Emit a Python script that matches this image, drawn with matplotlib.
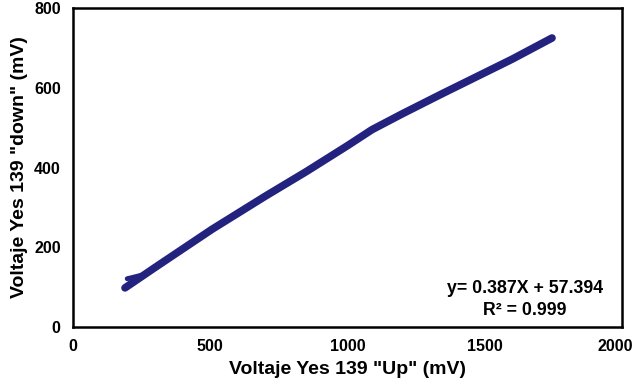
import matplotlib
matplotlib.use("Agg")
import matplotlib.pyplot as plt
import matplotlib.transforms as mtransforms

# readings of the sweep (mV)
up_mv = [189, 300, 506, 700, 850, 1000, 1089, 1200, 1344, 1500, 1600, 1745]
down_mv = [98, 150, 245, 328, 390, 455, 495, 535, 585, 638, 672, 725]
# short second branch at the low end of the sweep
up_start = [197, 215, 250]
down_start = [121, 124, 130]

x_ticks = [0, 500, 1000, 1500, 2000]
y_ticks = [0, 200, 400, 600, 800]

plt.rcParams['font.family'] = ['Liberation Sans', 'DejaVu Sans']
plt.rcParams['font.weight'] = 'bold'

fig = plt.figure(figsize=(6.36, 3.86), dpi=100)
ax = fig.add_axes([0.115, 0.153, 0.863, 0.826])

line_color = '#23237f'
ax.plot(up_mv, down_mv, color=line_color, lw=5.5, solid_capstyle='round', solid_joinstyle='round')
ax.plot(up_start, down_start, color=line_color, lw=3.5, solid_capstyle='round')

ax.set_xlim(0, 2000)
ax.set_ylim(0, 800)
ax.set_xticks(x_ticks)
ax.set_yticks(y_ticks)
ax.tick_params(length=0, labelsize=11.5)
ax.tick_params(axis='x', pad=9)
ax.tick_params(axis='y', pad=9)
for lbl in ax.get_xticklabels() + ax.get_yticklabels():
    lbl.set_fontweight('bold')
# keep the last x label inside the figure
last = ax.get_xticklabels()[-1]
last.set_transform(last.get_transform() + mtransforms.ScaledTranslation(-7 / 100, 0, fig.dpi_scale_trans))

for s in ax.spines.values():
    s.set_linewidth(1.8)
    s.set_color('black')

ax.set_xlabel('Voltaje Yes 139 "Up" (mV)', fontsize=14, fontweight='bold', labelpad=5)
ax.set_ylabel('Voltaje Yes 139 "down" (mV)', fontsize=14, fontweight='bold', labelpad=4)

ax.text(0.823, 0.12, 'y= 0.387X + 57.394', transform=ax.transAxes, ha='center', va='center',
        fontsize=12.8, fontweight='bold')
ax.text(0.823, 0.053, 'R² = 0.999', transform=ax.transAxes, ha='center', va='center',
        fontsize=12.8, fontweight='bold')

fig.savefig('out.png', dpi=100)
